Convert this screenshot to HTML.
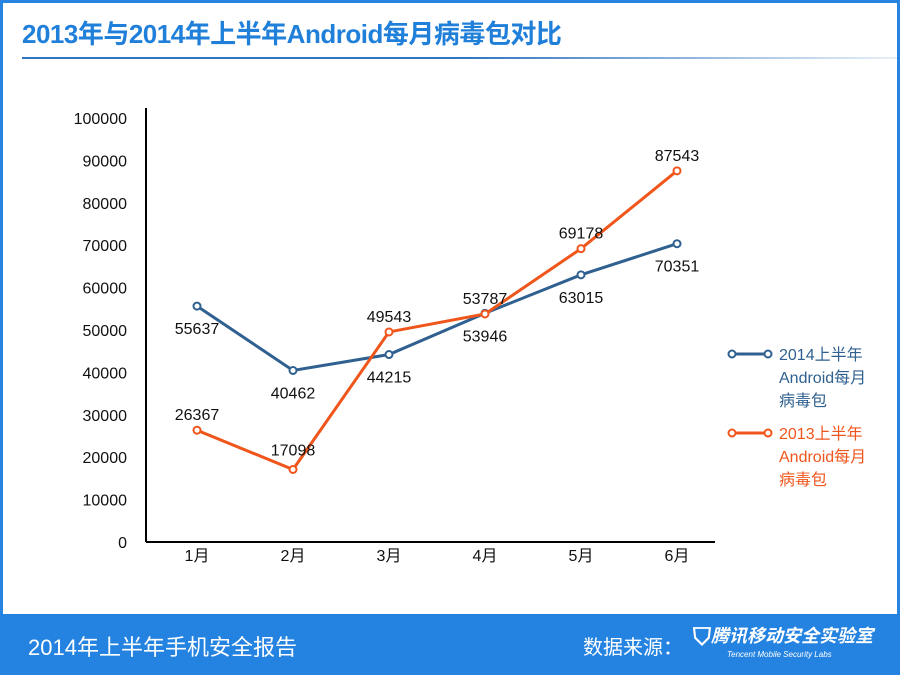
<!DOCTYPE html>
<html><head><meta charset="utf-8">
<style>
body{margin:0;width:900px;height:675px;overflow:hidden;background:#fff;font-family:"Liberation Sans","Noto Sans CJK SC",sans-serif;}
#frame{position:absolute;left:0;top:0;width:894px;height:669px;border:3px solid #2784e0;}
#title{position:absolute;left:22px;top:14px;font-size:26px;font-weight:bold;color:#1f7fd9;letter-spacing:-0.5px;}
#rule{position:absolute;left:22px;top:57px;width:878px;height:2px;background:linear-gradient(to right,#2f75c0 0%,#2f75c0 50%,rgba(47,117,192,0.1) 100%);}
#footer{position:absolute;left:0;top:614px;width:900px;height:61px;background:#2483e0;color:#fff;}
#footer .l{position:absolute;left:28px;top:16px;font-size:22px;}
#footer .r{position:absolute;left:583px;top:17px;font-size:20px;}
#footer .logo{position:absolute;left:693px;top:8px;font-size:18px;font-style:italic;font-weight:bold;}
#footer .logo small{display:block;font-size:8px;font-weight:normal;margin-left:34px;margin-top:-2px;}
</style></head><body>
<div id="frame"></div>
<div id="title">2013年与2014年上半年Android每月病毒包对比</div>
<div id="rule"></div>
<svg id="chart" width="900" height="675" style="position:absolute;left:0;top:0" font-family="Liberation Sans, Noto Sans CJK SC, sans-serif"></svg>
<div id="footer">
<div class="l">2014年上半年手机安全报告</div>
<div class="r">数据来源：</div>
<div class="logo"><span style="font-style:normal;font-size:24px;vertical-align:-3px">⛉</span>腾讯移动安全实验室<small>Tencent Mobile Security Labs</small></div>
</div>
<script>
const categories=["1月","2月","3月","4月","5月","6月"];
const series2014=[55637,40462,44215,53946,63015,70351];
const series2013=[26367,17098,49543,53787,69178,87543];
const yTicks=[0,10000,20000,30000,40000,50000,60000,70000,80000,90000,100000];
const svg=document.getElementById('chart');
const NS='http://www.w3.org/2000/svg';
const x0=146,x1=715,yB=542,yT=118,yMax=100000;
const xs=i=>197+i*96;
const ys=v=>yB-(v/yMax)*(yB-yT);
function mk(t,a,txt){const e=document.createElementNS(NS,t);for(const k in a)e.setAttribute(k,a[k]);if(txt!=null)e.textContent=txt;svg.appendChild(e);return e;}
let e=mk('line',{x1:x0,y1:yT-10,x2:x0,y2:yB,stroke:'#000','stroke-width':2});

e=mk('line',{x1:x0,y1:yB,x2:x1,y2:yB,stroke:'#000','stroke-width':2});

yTicks.forEach(v=>{const t=mk('text',{x:127,y:ys(v)+6,'text-anchor':'end','font-size':16,fill:'#111'},String(v));
});
categories.forEach((c,i)=>{const t=mk('text',{x:xs(i),y:yB+19,'text-anchor':'middle','font-size':16,fill:'#111'},c);
});
function draw(data,color,name,labelPos){
 const p=mk('polyline',{points:data.map((v,i)=>xs(i)+','+ys(v)).join(' '),fill:'none',stroke:color,'stroke-width':3});
 
 data.forEach((v,i)=>{const c=mk('circle',{cx:xs(i),cy:ys(v),r:3.5,fill:'#fff',stroke:color,'stroke-width':2});
 
 const dy=labelPos[i]>0?labelPos[i]+6:labelPos[i];
 const t=mk('text',{x:xs(i),y:ys(v)+dy,'text-anchor':'middle','font-size':16,fill:'#111'},String(v));
 });
}
draw(series2014,'#2f6090','series-2014',[22,22,22,22,22,22]);
draw(series2013,'#f0561c','series-2013',[-10,-14,-10,-10,-10,-10]);
const legend=[["2014上半年","Android每月","病毒包",'#2f6090',354],["2013上半年","Android每月","病毒包",'#f0561c',433]];
legend.forEach((l,k)=>{
 const g=mk('line',{x1:732,y1:l[4],x2:768,y2:l[4],stroke:l[3],'stroke-width':3});
 
 [732,768].forEach(cx=>{const c=mk('circle',{cx:cx,cy:l[4],r:3.5,fill:'#fff',stroke:l[3],'stroke-width':2});});
 for(let j=0;j<3;j++){const t=mk('text',{x:779,y:l[4]+6+j*23,'font-size':16,fill:l[3]},l[j]);
 }
});
</script>
</body></html>
